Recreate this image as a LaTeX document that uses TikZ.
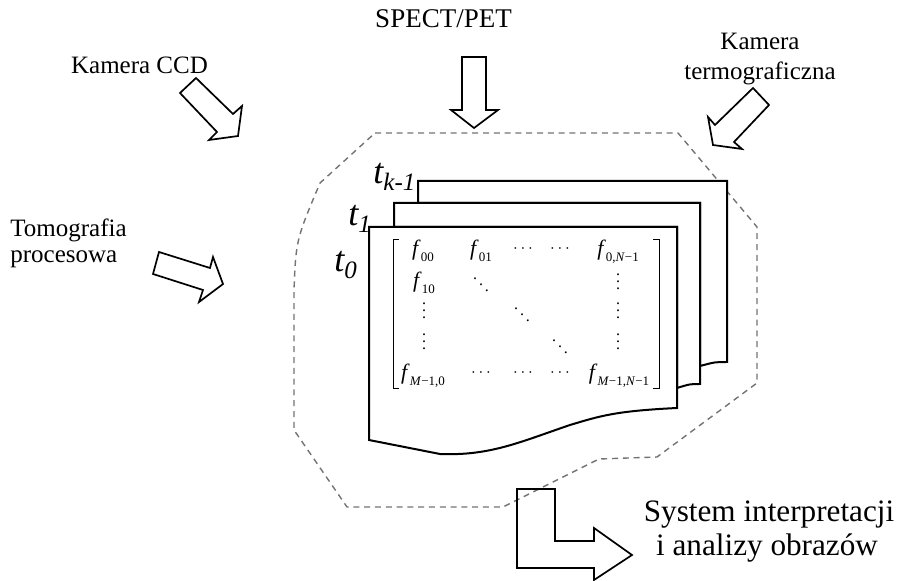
\documentclass[tikz,border=0pt]{standalone}
\usepackage{fontspec}
\setmainfont{Liberation Serif}
\newcommand{\msub}[1]{\raisebox{-0.25em}{\fontsize{6.5}{7}\selectfont #1}}
\newcommand{\tsub}[1]{\raisebox{-0.18em}{\fontsize{12.5}{13}\selectfont #1}}
\newcommand{\coldots}{\vbox{\baselineskip 3.4pt \lineskiplimit 0pt \hbox{.}\hbox{.}\hbox{.}}}
\begin{document}
\begin{tikzpicture}
    [
        x = 0.5pt, y = -0.5pt,
        page/.style = {draw, fill = white, line width = 1pt, line join = miter},
        blockarrow/.style = {draw, line width = 0.85pt, line join = miter},
        zone/.style = {draw = black!55, dash pattern = on 3pt off 2.4pt, line width = 0.7pt},
        fence/.style = {draw, line width = 0.4pt},
        sourcelabel/.style = {inner sep = 0pt, anchor = base, font = \fontsize{12.5}{15}\selectfont},
        timelabel/.style = {inner sep = 0pt, anchor = base west, font = \fontsize{18}{20}\selectfont\itshape},
        cell/.style = {inner sep = 0pt, font = \fontsize{11}{13}\selectfont},
        dotcell/.style = {inner sep = 0pt, font = \fontsize{8}{9}\selectfont}
    ]
    \useasboundingbox (0,0) rectangle (897,581);

    % region of the image sequence
    \draw[zone] (375,133) -- (678,133) -- (757,227) -- (757,383) -- (657,457)
        -- (599,459) -- (503,507) -- (347,507) -- (294,430) -- (294,290)
        .. controls (296,240) .. (320,183) -- cycle;

    % pages t_{k-1}, t_1, t_0
    \draw[page] (418,203) |- (727,181) -- (727,362) .. controls (715,362) .. (700,366)
        -- (700,203) -- cycle;
    \draw[page] (394,227) |- (700,203) -- (700,384) .. controls (690,384) .. (677,388)
        -- (677,227) -- cycle;
    \draw[page] (369,227) -- (677,227) -- (677,408)
        .. controls (615,411) and (600,416) .. (570,425)
        .. controls (520,442) and (490,456) .. (440,454)
        -- (369,440) -- cycle;

    \node[timelabel] (TimeK) at (373,184) {t\tsub{k-1}};
    \node[timelabel] (TimeB) at (348,226) {t\tsub{1}};
    \node[timelabel] (TimeA) at (334,272) {t\tsub{0}};

    % image matrix
    \draw[fence] (399,239) -| (393,388) -- (399,388);
    \draw[fence] (653,239) -| (659,388) -- (653,388);

    \node[cell, anchor = base] (F00) at (423,256) {\textit{f}\msub{00}};
    \node[cell, anchor = base] (F01) at (481,256) {\textit{f}\msub{01}};
    \node[dotcell] (DotsA) at (523,249) {$\cdots$};
    \node[dotcell] (DotsB) at (560,249) {$\cdots$};
    \node[cell, anchor = base] (F0N) at (618,256) {\textit{f}\msub{0,\textit{N}−1}};

    \node[cell, anchor = base] (F10) at (424,288) {\textit{f}\msub{10}};
    \node[dotcell] (DiagA) at (481,279) {$\ddots$};
    \node[dotcell] (VdotsA) at (618,282) {\coldots};

    \node[dotcell] (VdotsB) at (424,311) {\coldots};
    \node[dotcell] (DiagB) at (522,309) {$\ddots$};
    \node[dotcell] (VdotsC) at (618,311) {\coldots};

    \node[dotcell] (VdotsD) at (424,342) {\coldots};
    \node[dotcell] (DiagC) at (560,341) {$\ddots$};
    \node[dotcell] (VdotsE) at (618,342) {\coldots};

    \node[cell, anchor = base] (FM0) at (423,380) {\textit{f}\msub{\textit{M}−1,0}};
    \node[dotcell] (DotsC) at (481,373) {$\cdots$};
    \node[dotcell] (DotsD) at (523,373) {$\cdots$};
    \node[dotcell] (DotsE) at (560,373) {$\cdots$};
    \node[cell, anchor = base] (FMN) at (619,380) {\textit{f}\msub{\textit{M}−1,\textit{N}−1}};

    % sources
    \node[sourcelabel] (KameraCCD) at (139.5,74) {Kamera CCD};
    \node[sourcelabel, font = \fontsize{13.5}{16}\selectfont] (SpectPet) at (443.5,28) {SPECT/PET};
    \node[sourcelabel] (KameraTermoA) at (760,50) {Kamera};
    \node[sourcelabel] (KameraTermoB) at (760,80) {termograficzna};
    \node[sourcelabel, anchor = base west] (TomografiaA) at (10,237) {Tomografia};
    \node[sourcelabel, anchor = base west] (TomografiaB) at (10,263) {procesowa};

    \draw[blockarrow] (180,93) -- (196,78) -- (233,114) -- (242,106) -- (238,136)
        -- (209,140) -- (217,132) -- cycle;
    \draw[blockarrow] (462,57) -- (486,57) -- (486,110) -- (498,110) -- (474,128)
        -- (451,110) -- (462,110) -- cycle;
    \draw[blockarrow] (753,88) -- (769,105) -- (734,142) -- (742,149) -- (713,145)
        -- (708,117) -- (715,125) -- cycle;
    \draw[blockarrow] (159,252) -- (153,274) -- (203,290) -- (199,302) -- (223,284)
        -- (213,257) -- (210,268) -- cycle;

    % output
    \draw[blockarrow] (517,489) -- (555,489) -- (555,541) -- (594,541) -- (594,528)
        -- (632,555) -- (594,580) -- (594,568) -- (517,568) -- cycle;
    \node[sourcelabel, font = \fontsize{15.6}{18}\selectfont] (SystemA) at (769,521) {System interpretacji};
    \node[sourcelabel, font = \fontsize{15.6}{18}\selectfont] (SystemB) at (767,555) {i analizy obrazów};
\end{tikzpicture}
\end{document}
